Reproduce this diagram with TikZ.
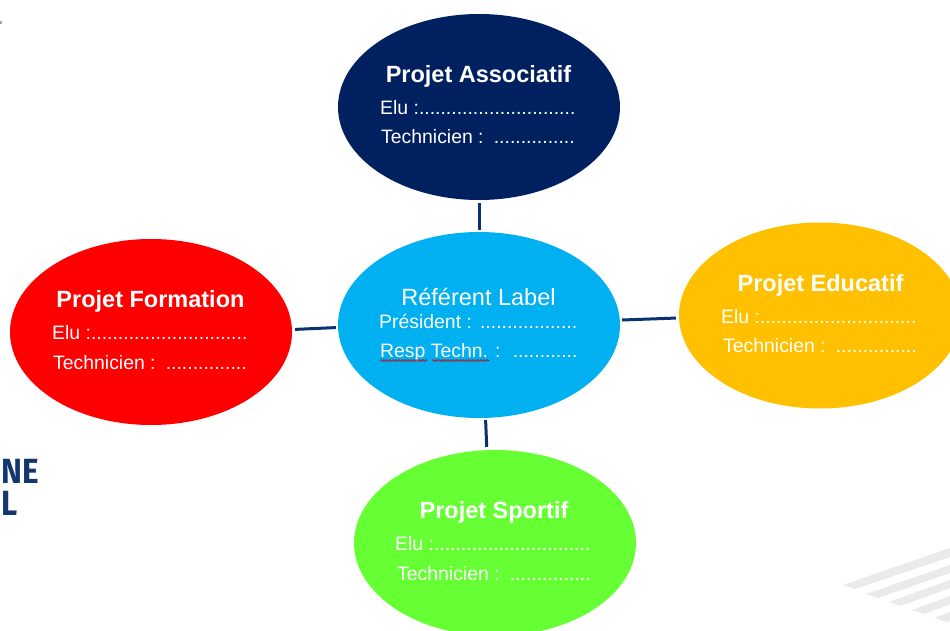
\documentclass[tikz,border=0pt]{standalone}
\usepackage{fontspec}
\setmainfont{Liberation Sans}
\newfontfamily\logofont[FakeStretch=0.9]{Fira Sans}
\usetikzlibrary{shapes.geometric,decorations.pathmorphing}
\definecolor{navy}{HTML}{002060}
\definecolor{sky}{HTML}{00B0F0}
\definecolor{amber}{HTML}{FFC000}
\definecolor{lime}{HTML}{66FF33}
\definecolor{logoblue}{HTML}{14366F}
\definecolor{stripe}{HTML}{EAEAEA}
\definecolor{linkblue}{HTML}{0A3272}
\tikzset{
  x=1pt,y=-1pt,
  blob/.style={ellipse,draw=none,inner sep=0pt,minimum width=282pt,minimum height=186pt},
  head/.style={text=white,font=\fontsize{23.5}{26}\selectfont\bfseries,inner sep=0pt,anchor=base},
  headlight/.style={text=white,font=\fontsize{23.5}{26}\selectfont,inner sep=0pt,anchor=base},
  info/.style={text=white,font=\fontsize{19.4}{22}\selectfont,inner sep=0pt,anchor=base west},
  link/.style={draw=linkblue,line width=3pt},
  band/.style={fill=stripe,draw=none},
  squiggle/.style={draw=red!80!black,line width=0.6pt,decorate,decoration={snake,amplitude=1pt,segment length=3pt}},
  logo/.style={text=logoblue,font=\logofont\fontsize{35}{38}\selectfont\bfseries,inner sep=0pt,anchor=base east}
}
\begin{document}
\begin{tikzpicture}
\useasboundingbox (0,0) rectangle (950,631);
\fill[white] (0,0) rectangle (950,631);
% background decoration
\fill[band] (843,585) -- (855,589) -- (950,557) -- (950,548) -- cycle;
\fill[band] (866,594) -- (878,598) -- (950,573) -- (950,565) -- cycle;
\fill[band] (889,602) -- (901,606) -- (950,588) -- (950,580) -- cycle;
\fill[band] (912,610) -- (924,614) -- (950,604) -- (950,596) -- cycle;
\fill[band] (934,618) -- (947,622) -- (950,621) -- (950,612) -- cycle;
\fill[gray!70] (0,21) rectangle (1.5,24);
\node[logo] (logoa) at (39,483) {NE};
\node[logo] (logob) at (18,515) {L};
% ellipses
\node[blob,fill=navy]  (assoc) at (479,107) {};
\node[blob,fill=sky]   (ref)   at (479,325) {};
\node[blob,fill=red]   (form)  at (151,332) {};
\node[blob,fill=amber] (educ)  at (820,315.5) {};
\node[blob,fill=lime]  (sport) at (495,543) {};
% connectors
\draw[link,shorten <=3pt,shorten >=2pt] (assoc.-90) -- (ref.90.4);
\draw[link,shorten <=3pt,shorten >=2pt] (form.1.6) -- (ref.181);
\draw[link,shorten <=2pt,shorten >=3pt] (ref.2) -- (educ.181.5);
\draw[link,shorten <=2pt,shorten >=3pt] (ref.-86.3) -- (sport.95);
% Projet Associatif
\node[head] (t1) at (478.5,83) {Projet Associatif};
\node[info] (t1a) at (380,115) {Elu :.............................};
\node[info] (t1b) at (381,144) {Technicien :\kern3pt{} ...............};
% Referent
\node[headlight] (t0) at (478.5,305) {Référent Label};
\node[info] (t0a) at (379,328) {Président :\kern1pt{} ..................};
\node[info] (t0b) at (380,357) {Resp Techn. :\kern5pt{} ............};
\draw[squiggle] (380,360.5) -- (427,360.5);
\draw[squiggle] (432,360.5) -- (489,360.5);
% Formation
\node[head] (t2) at (150.5,307.5) {Projet Formation};
\node[info] (t2a) at (52,339) {Elu :.............................};
\node[info] (t2b) at (53,369) {Technicien :\kern3pt{} ...............};
% Educatif
\node[head] (t3) at (820.5,291) {Projet Educatif};
\node[info] (t3a) at (721,323) {Elu :.............................};
\node[info] (t3b) at (723,352) {Technicien :\kern3pt{} ...............};
% Sportif
\node[head] (t4) at (494,518.5) {Projet Sportif};
\node[info] (t4a) at (395,550) {Elu :.............................};
\node[info] (t4b) at (397,580) {Technicien :\kern3pt{} ...............};
\end{tikzpicture}
\end{document}
